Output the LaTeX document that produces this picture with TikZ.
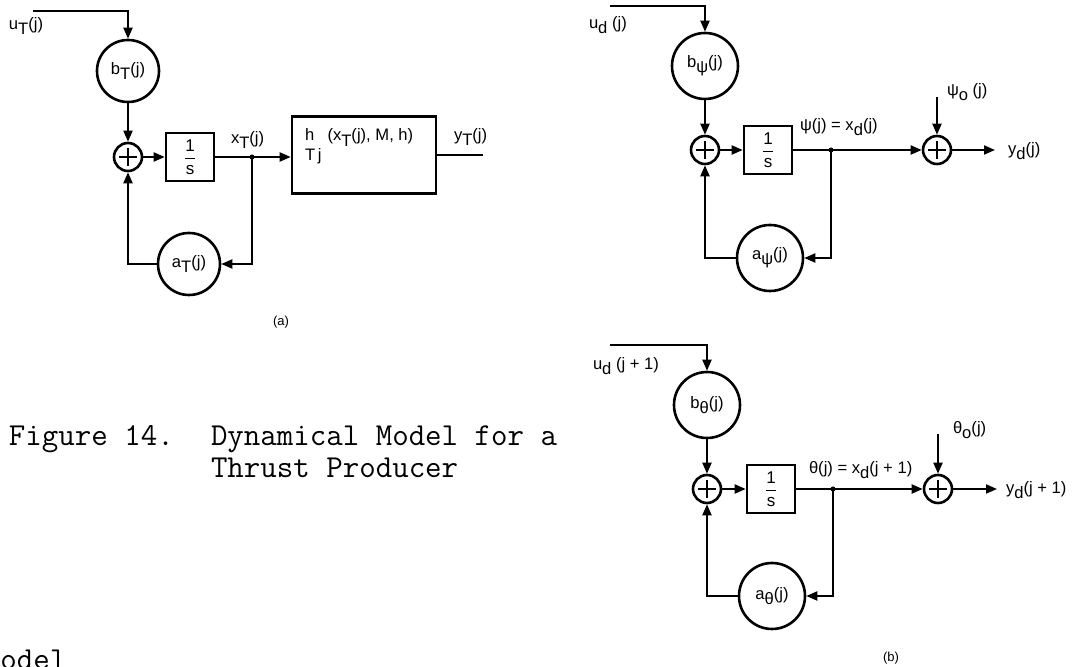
\documentclass[tikz,border=0pt]{standalone}
\usepackage{fontspec}
\setsansfont{Liberation Sans}
\usetikzlibrary{arrows.meta,calc}
\newcommand\lowr[1]{\raisebox{-0.6ex}{#1}}
\newcommand\onefrac{$\displaystyle\frac{\textsf{1}}{\textsf{s}}$}
\begin{document}
\begin{tikzpicture}[x=0.5pt,y=-0.5pt,line width=1pt,
  >={Triangle[length=5.5pt,width=4.5pt]},
  lblfont/.style={font=\sffamily\fontsize{8.3}{10}\selectfont},
  gain/.style={circle,draw,line width=1.3pt,minimum size=#1,inner sep=0pt,lblfont},
  sumj/.style={circle,draw,line width=1.3pt,minimum size=14pt,inner sep=0pt,
    path picture={\draw[line width=1pt] (path picture bounding box.center) +(-4.5pt,0) -- +(4.5pt,0)
      (path picture bounding box.center) +(0,-4.5pt) -- +(0,4.5pt);}},
  intb/.style={draw,line width=1.3pt,minimum width=24pt,minimum height=24pt,inner sep=0pt,
    font=\sffamily\fontsize{8.5}{10}\selectfont},
  hblk/.style={draw,line width=1.3pt,minimum width=72pt,minimum height=38.5pt,inner sep=0pt},
  jdot/.style={circle,fill,inner sep=0pt,minimum size=2.5pt},
  lbl/.style={lblfont,inner sep=0pt,anchor=west},
  tag/.style={font=\sffamily\fontsize{6.5}{7}\selectfont,inner sep=0pt},
  captxt/.style={font=\ttfamily\fontsize{16}{19}\selectfont\addfontfeatures{FakeBold=0.6},inner sep=0pt,anchor=base west}
]
\useasboundingbox (0,0) rectangle (1072,667);

% ---------------- (a) ----------------
\coordinate (uTs) at (33,11);
\coordinate (yTe) at (483,155);
\node[gain=31pt] (bT) at (128,71) {b\lowr{T}(j)};
\node[sumj] (sA) at (128,157) {};
\node[intb] (iA) at (190,157) {\onefrac};
\node[jdot] (jA) at (252,157) {};
\node[hblk] (hA) at (364,155) {};
\node[lbl] (hAl) at (304,147) {\begin{tabular}{@{}l@{}}h\hspace{0.8em}(x\lowr{T}(j), M, h)\\[0pt]T\,j\end{tabular}};
\node[gain=31pt] (aT) at (189,264) {a\lowr{T}(j)};
\node[lbl] (uTl) at (8,26) {u\lowr{T}(j)};
\node[lbl] (xTl) at (230,140) {x\lowr{T}(j)};
\node[lbl] (yTl) at (453,137) {y\lowr{T}(j)};
\node[tag] (capA) at (281,322) {(a)};

\draw[->] (uTs) -- (uTs -| bT) -- (bT);
\draw[->] (bT) -- (sA);
\draw[->] (sA) -- (iA);
\draw (iA.east) -- (jA.center);
\draw[->] (jA.center) -- (jA -| hA.west);
\draw (hA.east |- yTe) -- (yTe);
\draw[->] (jA.center) |- (aT);
\draw[->] (aT) -| (sA);

% ---------------- (b) top ----------------
\coordinate (udS) at (610,6);
\coordinate (psio) at (937,97);
\coordinate (ydE) at (995,150);
\node[gain=33pt] (bpsi) at (705,66) {b\lowr{ψ}(j)};
\node[sumj] (sB1) at (705,150) {};
\node[intb] (iB1) at (768,150) {\onefrac};
\node[jdot] (jB1) at (831,150) {};
\node[sumj] (sB2) at (937,150) {};
\node[gain=33pt] (apsi) at (770,258) {a\lowr{ψ}(j)};
\node[lbl] (udl) at (588,25) {u\lowr{d} (j)};
\node[lbl] (psil) at (799,127) {ψ(j) = x\lowr{d}(j)};
\node[lbl] (psiol) at (946,92) {ψ\lowr{o} (j)};
\node[lbl] (ydl) at (1007,151) {y\lowr{d}(j)};

\draw[->] (udS) -- (udS -| bpsi) -- (bpsi);
\draw[->] (bpsi) -- (sB1);
\draw[->] (sB1) -- (iB1);
\draw (iB1.east) -- (jB1.center);
\draw[->] (jB1.center) -- (sB2);
\draw[->] (psio) -- (sB2);
\draw[->] (sB2) -- (ydE);
\draw[->] (jB1.center) |- (apsi);
\draw[->] (apsi) -| (sB1);

% ---------------- (b) bottom ----------------
\coordinate (udS2) at (610,345);
\coordinate (thetao) at (938,434);
\coordinate (ydE2) at (997,489);
\node[gain=33pt] (bth) at (707,405) {b\lowr{θ}(j)};
\node[sumj] (sC1) at (707,489) {};
\node[intb] (iC1) at (771,489) {\onefrac};
\node[jdot] (jC1) at (833,489) {};
\node[sumj] (sC2) at (938,489) {};
\node[gain=33pt] (ath) at (772,596) {a\lowr{θ}(j)};
\node[lbl] (udl2) at (592,366) {u\lowr{d} (j + 1)};
\node[lbl] (thl) at (808,470) {θ(j) = x\lowr{d}(j + 1)};
\node[lbl] (thol) at (952,430) {θ\lowr{o}(j)};
\node[lbl] (ydl2) at (1005,490) {y\lowr{d}(j + 1)};
\node[tag] (capB) at (891,658) {(b)};

\draw[->] (udS2) -- (udS2 -| bth) -- (bth);
\draw[->] (bth) -- (sC1);
\draw[->] (sC1) -- (iC1);
\draw (iC1.east) -- (jC1.center);
\draw[->] (jC1.center) -- (sC2);
\draw[->] (thetao) -- (sC2);
\draw[->] (sC2) -- (ydE2);
\draw[->] (jC1.center) |- (ath);
\draw[->] (ath) -| (sC1);

% ---------------- caption ----------------
\node[captxt] (cap1) at (8,446) {Figure 14.};
\node[captxt] (cap2) at (210,446) {Dynamical Model for a};
\node[captxt] (cap3) at (210,478) {Thrust Producer};
\node[captxt] (cap4) at (-17,670) {model};
\end{tikzpicture}
\end{document}
